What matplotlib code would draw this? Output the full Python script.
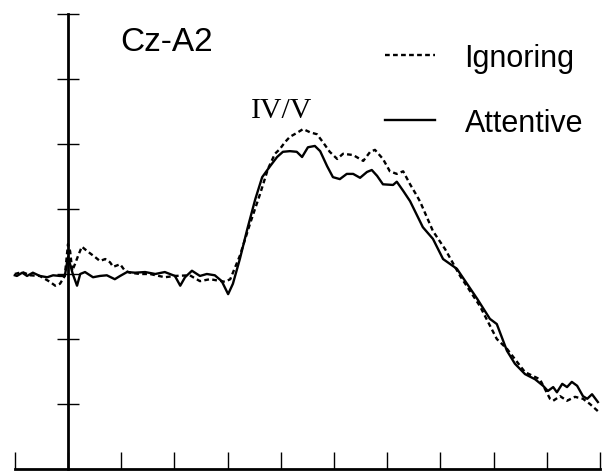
#importing packages
import numpy as np
import matplotlib.pyplot as plt

##data (time in ms, amplitude in axis divisions)
attentive_t = [-1.00, -0.96, -0.86, -0.77, -0.66, -0.53, -0.39, -0.28, -0.15, -0.06,
               0.00, 0.04, 0.09, 0.17, 0.23, 0.32, 0.47, 0.60, 0.73, 0.88,
               0.98, 1.11, 1.26, 1.45, 1.64, 1.82, 2.01, 2.11, 2.20, 2.33,
               2.48, 2.61, 2.76, 2.89, 3.01, 3.10, 3.23, 3.37, 3.52, 3.65,
               3.80, 3.93, 4.04, 4.17, 4.30, 4.40, 4.51, 4.64, 4.74, 4.87,
               4.98, 5.11, 5.24, 5.36, 5.49, 5.62, 5.71, 5.81, 5.92, 6.11,
               6.18, 6.30, 6.43, 6.67, 6.86, 7.05, 7.31, 7.50, 7.69, 7.93,
               8.06, 8.25, 8.40, 8.59, 8.78, 8.93, 9.02, 9.12, 9.19, 9.29,
               9.38, 9.47, 9.57, 9.68, 9.76, 9.85, 9.96]
attentive_v = [-0.02, -0.03, 0.02, -0.03, 0.02, -0.03, -0.05, -0.02, -0.03, -0.03,
               0.26, 0.15, 0.00, -0.18, 0.00, 0.03, -0.05, -0.03, -0.02, -0.08,
               -0.03, 0.03, 0.02, 0.03, 0.00, 0.03, -0.03, -0.18, -0.05, 0.05,
               -0.03, 0.00, -0.02, -0.11, -0.31, -0.15, 0.23, 0.69, 1.15, 1.49,
               1.66, 1.80, 1.88, 1.89, 1.88, 1.80, 1.95, 1.97, 1.89, 1.66,
               1.49, 1.46, 1.54, 1.54, 1.48, 1.57, 1.60, 1.51, 1.38, 1.37,
               1.42, 1.28, 1.12, 0.72, 0.54, 0.23, 0.08, -0.15, -0.38, -0.69,
               -0.77, -1.18, -1.38, -1.54, -1.62, -1.72, -1.80, -1.74, -1.82, -1.69,
               -1.74, -1.66, -1.72, -1.88, -1.92, -1.85, -1.97]

ignoring_t = [-1.00, -0.86, -0.71, -0.53, -0.34, -0.24, -0.15, -0.06, 0.00, 0.04,
              0.08, 0.13, 0.19, 0.26, 0.38, 0.51, 0.60, 0.70, 0.79, 0.85,
              0.98, 1.07, 1.17, 1.35, 1.54, 1.82, 2.01, 2.29, 2.48, 2.67,
              2.95, 3.05, 3.23, 3.42, 3.61, 3.76, 3.89, 3.98, 4.08, 4.17,
              4.30, 4.42, 4.55, 4.68, 4.79, 4.92, 5.06, 5.17, 5.36, 5.55,
              5.68, 5.77, 5.92, 6.05, 6.18, 6.30, 6.43, 6.56, 6.62, 6.86,
              7.09, 7.37, 7.74, 8.06, 8.25, 8.59, 8.87, 9.06, 9.12, 9.25,
              9.38, 9.53, 9.68, 9.81, 9.96]
ignoring_v = [0.00, 0.03, -0.02, -0.03, -0.12, -0.18, -0.15, -0.03, 0.46, 0.35,
              0.05, 0.15, 0.28, 0.42, 0.34, 0.26, 0.20, 0.23, 0.18, 0.11,
              0.15, 0.05, 0.02, 0.00, 0.00, -0.05, -0.03, -0.02, -0.11, -0.08,
              -0.12, -0.08, 0.28, 0.77, 1.23, 1.62, 1.85, 1.92, 2.03, 2.11,
              2.17, 2.23, 2.18, 2.15, 2.03, 1.88, 1.77, 1.85, 1.83, 1.74,
              1.88, 1.91, 1.77, 1.58, 1.54, 1.58, 1.38, 1.20, 1.11, 0.66,
              0.38, -0.03, -0.49, -1.00, -1.15, -1.51, -1.62, -1.92, -1.95, -1.88,
              -1.95, -1.89, -1.92, -2.00, -2.11]

x_ticks = np.arange(-1, 11)
y_ticks = np.arange(-2, 5)

##figure
fig = plt.figure(figsize=(6.09, 4.77), dpi=100)
ax = fig.add_axes([0, 0, 1, 1])

ax.plot(ignoring_t, ignoring_v, color="black", linewidth=1.7,
        dashes=(2, 1.4), label="Ignoring")
ax.plot(attentive_t, attentive_v, color="black", linewidth=1.7,
        label="Attentive")

ax.set_xlim(-1.278, 10.169)
ax.set_ylim(-3.108, 4.231)

#axes drawn as crossing lines
ax.spines["top"].set_visible(False)
ax.spines["right"].set_visible(False)
ax.spines["left"].set_position(("data", 0))
ax.spines["bottom"].set_position(("data", -3))
ax.spines["left"].set_bounds(-3, 4)
ax.spines["bottom"].set_bounds(-1, 10)
ax.spines["left"].set_linewidth(2)
ax.spines["bottom"].set_linewidth(2)

ax.set_xticks(x_ticks)
ax.set_yticks(y_ticks)
ax.tick_params(axis="x", direction="in", length=12.2, width=1,
               labelbottom=False)
ax.tick_params(axis="y", direction="inout", length=15.8, width=1,
               labelleft=False)
ax.patch.set_visible(False)

##labels
ax.text(0.98, 3.58, "Cz-A2", fontsize=24, family="Liberation Sans",
        ha="left", va="center")
ax.text(4.02, 2.52, "IV/V", fontsize=21.5, family="Liberation Serif",
        ha="center", va="center")

leg = ax.legend(loc="upper left", bbox_to_anchor=(385 / 609, 1 - 44 / 477),
                frameon=False, borderpad=0, borderaxespad=0,
                handlelength=1.65, handletextpad=0.95, labelspacing=1.15,
                prop={"family": "Liberation Sans", "size": 22})

plt.savefig("out.png", dpi=100)
